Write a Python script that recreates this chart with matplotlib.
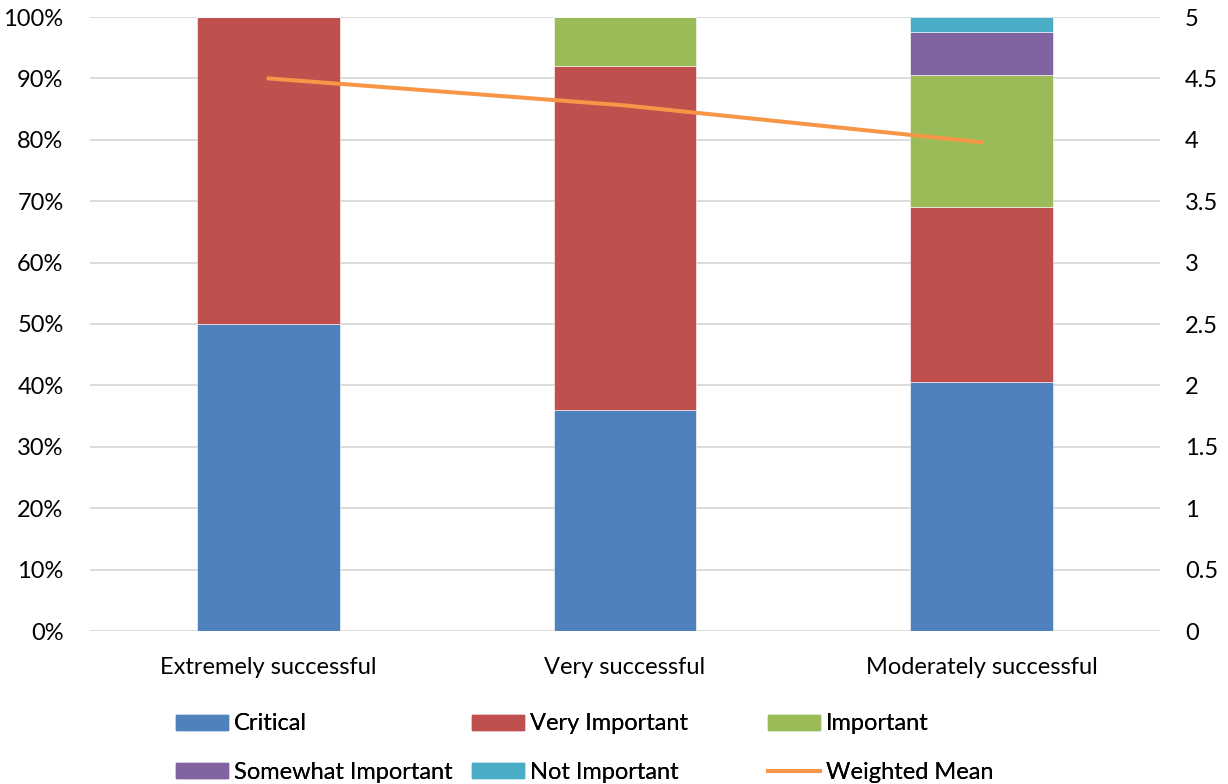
import numpy as np
import matplotlib
matplotlib.use('Agg')
from matplotlib import pyplot as plt
from matplotlib.ticker import PercentFormatter
from matplotlib.lines import Line2D
from matplotlib.patches import Patch

plt.rcParams['font.family'] = ['Lato', 'DejaVu Sans']
plt.rcParams['font.size'] = 17

# share of responses (%) per success group
groups = ['Extremely successful', 'Very successful', 'Moderately successful']
levels = ['Critical', 'Very Important', 'Important', 'Somewhat Important', 'Not Important']
critical = [50.0, 36.0, 40.5]
very_important = [50.0, 56.0, 28.6]
important = [0.0, 8.0, 21.4]
somewhat_important = [0.0, 0.0, 7.1]
not_important = [0.0, 0.0, 2.4]
weighted_mean = [4.5, 4.28, 3.98]

colors = ['#4F81BD', '#C0504D', '#9BBB59', '#8064A2', '#4BACC6']
line_color = '#F79646'

fig = plt.figure(figsize=(12.28, 7.84), dpi=100)
ax = fig.add_axes([90/1228, 1 - 631/784, 1070/1228, 614/784])

x = np.arange(len(groups))
bottom = np.zeros(len(groups))
for vals, col, name in zip([critical, very_important, important, somewhat_important, not_important],
                           colors, levels):
    ax.bar(x, vals, width=0.4, bottom=bottom, color=col, label=name,
           edgecolor='white', linewidth=0.4)
    bottom += np.array(vals)

ax.set_xlim(-0.5, 2.5)
ax.set_ylim(0, 100)
ax.set_yticks(np.arange(0, 101, 10))
ax.yaxis.set_major_formatter(PercentFormatter(xmax=100, decimals=0))
ax.set_xticks(x)
ax.set_xticklabels(groups)
ax.tick_params(axis='x', length=0, pad=19)
ax.tick_params(axis='y', length=0, pad=19)
ax.grid(axis='y', color='#D9D9D9', linewidth=1.3)
ax.set_axisbelow(True)
for s in ax.spines.values():
    s.set_visible(False)

# weighted mean on the secondary scale
ax2 = ax.twinx()
ax2.plot(x, weighted_mean, color=line_color, linewidth=2.9, solid_capstyle='round')
ax2.set_ylim(0, 5)
ax2.set_yticks(np.arange(0, 5.01, 0.5))
ax2.set_yticklabels(['0', '0.5', '1', '1.5', '2', '2.5', '3', '3.5', '4', '4.5', '5'])
ax2.tick_params(axis='y', length=0, pad=18)
for s in ax2.spines.values():
    s.set_visible(False)

# legend, three equal-width columns
handles = [Patch(color=c) for c in colors] + [Line2D([], [], color=line_color, linewidth=2.9)]
names = levels + ['Weighted Mean']
columns = [(0, 3), (1, 4), (2, 5)]
col_x = [176/1228, 472/1228, 768/1228]
for (i, j), cx in zip(columns, col_x):
    leg = fig.legend([handles[i], handles[j]], [names[i], names[j]],
                     loc='center left', bbox_to_anchor=(cx, 1 - 748/784),
                     frameon=False, borderpad=0, borderaxespad=0,
                     handlelength=2.2, handleheight=0.6, handletextpad=0.25,
                     labelspacing=1.15, fontsize=17)
    fig.add_artist(leg)

fig.savefig('out.png', dpi=100)
